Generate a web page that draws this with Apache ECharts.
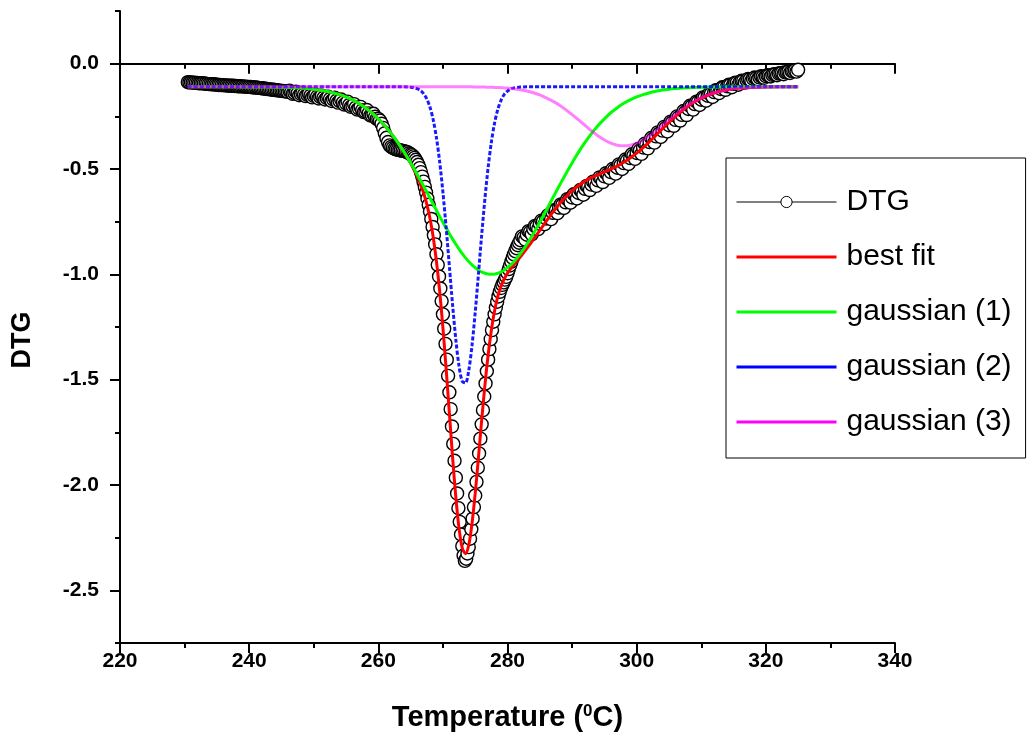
<!DOCTYPE html>
<html lang="en">
<head>
<meta charset="UTF-8">
<title>DTG deconvolution</title>
<script src="https://cdn.jsdelivr.net/npm/echarts@6/dist/echarts.min.js"></script>
<style>
    html, body { margin: 0; padding: 0; background: #fff; }
    #main { width: 1028px; height: 742px; }
</style>
</head>
<body>
<div id="main"></div>
<script>
    // measured DTG points [temperature, DTG]
    var dtgMain = [
        [230.5,-0.088],[231,-0.089],[231.5,-0.090],[232,-0.092],[232.5,-0.093],[233,-0.094],[233.5,-0.096],[234,-0.097],
        [234.5,-0.098],[235,-0.100],[235.5,-0.101],[236,-0.102],[236.5,-0.103],[237,-0.104],[237.5,-0.105],[238,-0.106],
        [238.5,-0.107],[239,-0.108],[239.5,-0.109],[240,-0.110],[240.5,-0.112],[241,-0.113],[241.5,-0.115],[242,-0.117],
        [242.5,-0.119],[243,-0.121],[243.5,-0.123],[244,-0.125],[244.5,-0.127],[245,-0.129],[245.5,-0.131],[246,-0.134],
        [246.5,-0.136],[247,-0.139],[247.5,-0.141],[248,-0.144],[248.5,-0.147],[249,-0.148],[249.5,-0.152],[250,-0.153],
        [250.5,-0.157],[251,-0.158],[251.5,-0.162],[252,-0.163],[252.5,-0.168],[253,-0.170],[253.5,-0.176],[254,-0.178],
        [254.5,-0.185],[255,-0.189],[255.5,-0.196],[256,-0.200],[256.5,-0.208],[257,-0.213],[257.5,-0.221],[258,-0.228],
        [258.5,-0.236],[259,-0.245],[259.5,-0.252],[260,-0.262],[260.5,-0.285],[261,-0.330],[261.5,-0.372],[262,-0.395],
        [262.5,-0.404],[263,-0.409],[263.5,-0.412],[264,-0.415],[264.5,-0.420],[265,-0.430],
        [265.2,-0.434],[265.4,-0.440],[265.6,-0.447],[265.8,-0.456],[266.0,-0.467],[266.2,-0.480],[266.4,-0.496],[266.6,-0.515],
        [266.8,-0.536],[267.0,-0.560],[267.2,-0.585],[267.4,-0.612],[267.6,-0.640],[267.8,-0.670],[268.0,-0.702],[268.2,-0.737],
        [268.4,-0.775],[268.6,-0.815],[268.8,-0.858],[269.0,-0.905],[269.2,-0.955],[269.4,-1.010],[269.6,-1.067],[269.8,-1.127],
        [270.0,-1.190],[270.2,-1.258],[270.4,-1.330],[270.6,-1.405],[270.8,-1.482],[271.0,-1.560],[271.2,-1.640],[271.4,-1.722],
        [271.6,-1.805],[271.8,-1.885],[272.0,-1.965],[272.2,-2.040],[272.4,-2.110],[272.6,-2.175],[272.8,-2.235],[273.0,-2.290],
        [273.2,-2.335],[273.4,-2.360],[273.6,-2.350],[273.8,-2.325],[274.0,-2.295],[274.2,-2.255],[274.4,-2.210],[274.6,-2.160],
        [274.8,-2.105],[275.0,-2.050],[275.2,-1.985],[275.4,-1.918],[275.6,-1.850],[275.8,-1.780],[276.0,-1.712],[276.2,-1.645],
        [276.4,-1.580],[276.6,-1.518],[276.8,-1.460],[277.0,-1.405],[277.2,-1.355],[277.4,-1.308],[277.6,-1.265],[277.8,-1.225],
        [278.0,-1.190],[278.2,-1.158],[278.4,-1.130],[278.6,-1.105],[278.8,-1.083],[279.0,-1.065],[279.2,-1.050],[279.4,-1.038],
        [279.6,-1.025],[279.8,-1.012],[280.0,-0.995],[280.2,-0.975],[280.4,-0.958],[280.6,-0.940],[280.8,-0.922],[281.0,-0.905],
        [281.2,-0.890],[281.4,-0.876],[281.6,-0.862],[281.8,-0.850],[282.0,-0.838],
        [282.5,-0.825],[283,-0.812],[283.5,-0.798],[284,-0.785],[284.5,-0.772],[285,-0.760],[285.5,-0.748],[286,-0.735],
        [286.5,-0.722],[287,-0.708],[287.5,-0.695],[288,-0.683],[288.5,-0.670],[289,-0.658],[289.5,-0.646],[290,-0.635],
        [290.5,-0.624],[291,-0.614],[291.5,-0.604],[292,-0.594],[292.5,-0.584],[293,-0.574],[293.5,-0.564],[294,-0.554],
        [294.5,-0.545],[295,-0.535],[295.5,-0.525],[296,-0.515],[296.5,-0.505],[297,-0.494],[297.5,-0.483],[298,-0.472],
        [298.5,-0.460],[299,-0.448],[299.5,-0.436],[300,-0.424],[300.5,-0.411],[301,-0.398],[301.5,-0.385],[302,-0.372],
        [302.5,-0.358],[303,-0.345],[303.5,-0.331],[304,-0.318],[304.5,-0.305],[305,-0.292],[305.5,-0.279],[306,-0.267],
        [306.5,-0.255],[307,-0.243],[307.5,-0.230],[308,-0.215],[308.5,-0.203],[309,-0.192],[309.5,-0.181],[310,-0.171],
        [310.5,-0.161],[311,-0.152],[311.5,-0.143],[312,-0.135],[312.5,-0.127],[313,-0.120],[313.5,-0.113],[314,-0.107],
        [314.5,-0.101],[315,-0.096],[315.5,-0.091],[316,-0.086],[316.5,-0.082],[317,-0.078],[317.5,-0.074],[318,-0.071],
        [318.5,-0.068],[319,-0.065],[319.5,-0.062],[320,-0.059],[320.5,-0.056],[321,-0.053],[321.5,-0.050],[322,-0.047],
        [322.5,-0.044],[323,-0.041],[323.5,-0.038],[324,-0.035],[324.5,-0.032],[325,-0.029]
    ];

    // in-between readings where the scatter band is dense and noisy
    var dtgExtra = [
        [230.75,-0.089],[231.25,-0.090],[231.75,-0.091],[232.25,-0.093],[232.75,-0.093],[233.25,-0.095],[233.75,-0.097],
        [234.25,-0.098],[234.75,-0.099],[235.25,-0.101],[235.75,-0.102],[236.25,-0.103],[236.75,-0.104],[237.25,-0.105],
        [237.75,-0.106],[238.25,-0.107],[238.75,-0.108],[239.25,-0.109],[239.75,-0.110],[240.25,-0.111],[240.75,-0.113],
        [241.25,-0.114],[241.75,-0.116],[242.25,-0.118],[242.75,-0.120],[243.25,-0.122],[243.75,-0.124],[244.25,-0.126],
        [244.75,-0.128],[245.25,-0.130],[245.75,-0.132],[246.25,-0.128],[246.75,-0.143],[247.25,-0.133],[247.75,-0.150],
        [248.25,-0.138],[248.75,-0.154],[249.25,-0.143],[249.75,-0.160],[250.25,-0.147],[250.75,-0.165],[251.25,-0.152],
        [251.75,-0.170],[252.25,-0.157],[252.75,-0.177],[253.25,-0.162],[253.75,-0.185],[254.25,-0.170],[254.75,-0.194],
        [255.25,-0.180],[255.75,-0.205],[256.25,-0.192],[256.75,-0.218],[257.25,-0.205],[257.75,-0.230],[258.25,-0.220],
        [258.75,-0.246],[259.25,-0.238],[259.75,-0.262],[260.25,-0.270],[260.75,-0.305],[261.25,-0.352],[261.75,-0.388],
        [262.25,-0.400],[262.75,-0.407],[263.25,-0.411],[263.75,-0.414],[264.25,-0.418],[264.75,-0.425],
        [282.25,-0.820],[282.75,-0.835],[283.25,-0.795],[283.75,-0.810],[284.25,-0.770],[284.75,-0.785],[285.25,-0.745],
        [285.75,-0.762],[286.25,-0.720],[286.75,-0.738],[287.25,-0.695],[287.75,-0.710],[288.25,-0.668],[288.75,-0.685],
        [289.25,-0.643],[289.75,-0.660],[290.25,-0.620],[290.75,-0.640],[291.25,-0.600],[291.75,-0.622],[292.25,-0.580],
        [292.75,-0.600],[293.25,-0.560],[293.75,-0.580],[294.25,-0.540],[294.75,-0.562],[295.25,-0.520],[295.75,-0.542],
        [296.25,-0.500],[296.75,-0.522],[297.25,-0.478],[297.75,-0.500],[298.25,-0.455],[298.75,-0.476],[299.25,-0.430],
        [299.75,-0.452],[300.25,-0.405],[300.75,-0.428],[301.25,-0.380],[301.75,-0.402],[302.25,-0.353],[302.75,-0.375],
        [303.25,-0.326],[303.75,-0.348],[304.25,-0.300],[304.75,-0.322],[305.25,-0.275],[305.75,-0.295],[306.25,-0.250],
        [306.75,-0.270],[307.25,-0.225],[307.75,-0.244],[308.25,-0.200],[308.75,-0.218],[309.25,-0.180],[309.75,-0.196],
        [310.25,-0.160],[310.75,-0.176],[311.25,-0.142],[311.75,-0.158],[312.25,-0.126],[312.75,-0.140],[313.25,-0.112],
        [313.75,-0.124],[314.25,-0.100],[314.75,-0.112],[315.25,-0.090],[315.75,-0.100],[316.25,-0.081],[316.75,-0.090],
        [317.25,-0.073],[317.75,-0.081],[318.25,-0.066],[318.75,-0.074],[319.25,-0.060],[319.75,-0.067],[320.25,-0.055],
        [320.75,-0.061],[321.25,-0.050],[321.75,-0.055],[322.25,-0.045],[322.75,-0.050],[323.25,-0.040],[323.75,-0.044],
        [324.25,-0.035],[324.75,-0.038]
    ];

    // temperatures of the fitted curves
    var fitTemp = [230.5, 234, 238, 242, 245, 248, 250, 252, 254, 256, 258, 260, 261, 262, 263, 264, 265,
        265.5, 266, 266.5, 267, 267.5, 268, 268.5, 269, 269.5, 270, 270.5, 271, 271.5, 272, 272.5, 273, 273.5,
        274, 274.5, 275, 275.5, 276, 276.5, 277, 277.5, 278, 278.5, 279, 279.5, 280, 280.5, 281,
        282, 283, 284, 285, 286, 287, 288, 289, 290, 291, 292, 293, 294, 295, 296, 297, 298, 299, 300,
        301, 302, 303, 304, 305, 306, 307, 308, 309, 310, 311, 312, 314, 316, 318, 320, 322, 325];

    var bestFit = [-0.110, -0.110, -0.110, -0.111, -0.112, -0.116, -0.121, -0.131, -0.147, -0.172, -0.209, -0.262, -0.295, -0.332, -0.374, -0.421, -0.473,
        -0.502, -0.533, -0.570, -0.613, -0.667, -0.735, -0.824, -0.939, -1.081, -1.253, -1.449, -1.659, -1.869, -2.058, -2.207, -2.300, -2.326,
        -2.285, -2.184, -2.040, -1.870, -1.693, -1.528, -1.383, -1.265, -1.173, -1.105, -1.056, -1.021, -0.994, -0.973, -0.953,
        -0.917, -0.877, -0.835, -0.791, -0.748, -0.706, -0.667, -0.633, -0.603, -0.578, -0.557, -0.541, -0.527, -0.514, -0.500, -0.486, -0.468, -0.448, -0.425,
        -0.399, -0.370, -0.339, -0.309, -0.279, -0.250, -0.224, -0.201, -0.180, -0.164, -0.150, -0.139, -0.124, -0.116, -0.113, -0.111, -0.110, -0.110];

    var gauss1 = [-0.110, -0.110, -0.110, -0.111, -0.112, -0.116, -0.121, -0.131, -0.147, -0.172, -0.209, -0.262, -0.295, -0.332, -0.374, -0.420, -0.471,
        -0.497, -0.525, -0.552, -0.581, -0.609, -0.638, -0.667, -0.696, -0.725, -0.753, -0.780, -0.807, -0.833, -0.857, -0.880, -0.902, -0.922,
        -0.939, -0.955, -0.968, -0.980, -0.989, -0.995, -0.999, -1.000, -0.999, -0.995, -0.989, -0.980, -0.968, -0.955, -0.939,
        -0.902, -0.857, -0.807, -0.753, -0.696, -0.638, -0.581, -0.525, -0.471, -0.420, -0.374, -0.332, -0.295, -0.262, -0.233, -0.209, -0.188, -0.172, -0.158,
        -0.147, -0.138, -0.131, -0.125, -0.121, -0.118, -0.116, -0.114, -0.113, -0.112, -0.111, -0.111, -0.110, -0.110, -0.110, -0.110, -0.110, -0.110];

    var gauss2 = [-0.110, -0.110, -0.110, -0.110, -0.110, -0.110, -0.110, -0.110, -0.110, -0.110, -0.110, -0.110, -0.110, -0.110, -0.110, -0.110, -0.112,
        -0.114, -0.119, -0.127, -0.142, -0.167, -0.207, -0.267, -0.352, -0.466, -0.610, -0.778, -0.962, -1.146, -1.310, -1.437, -1.508, -1.515,
        -1.456, -1.339, -1.181, -0.999, -0.814, -0.642, -0.493, -0.373, -0.282, -0.217, -0.174, -0.146, -0.130, -0.120, -0.115,
        -0.111, -0.110, -0.110, -0.110, -0.110, -0.110, -0.110, -0.110, -0.110, -0.110, -0.110, -0.110, -0.110, -0.110, -0.110, -0.110, -0.110, -0.110, -0.110,
        -0.110, -0.110, -0.110, -0.110, -0.110, -0.110, -0.110, -0.110, -0.110, -0.110, -0.110, -0.110, -0.110, -0.110, -0.110, -0.110, -0.110, -0.110];

    var gauss3 = [-0.110, -0.110, -0.110, -0.110, -0.110, -0.110, -0.110, -0.110, -0.110, -0.110, -0.110, -0.110, -0.110, -0.110, -0.110, -0.110, -0.110,
        -0.110, -0.110, -0.110, -0.110, -0.110, -0.110, -0.110, -0.110, -0.110, -0.110, -0.110, -0.110, -0.110, -0.110, -0.110, -0.110, -0.110,
        -0.110, -0.110, -0.111, -0.111, -0.111, -0.111, -0.112, -0.112, -0.113, -0.113, -0.114, -0.115, -0.116, -0.118, -0.119,
        -0.124, -0.130, -0.138, -0.148, -0.162, -0.178, -0.196, -0.218, -0.242, -0.267, -0.293, -0.319, -0.342, -0.362, -0.377, -0.387, -0.390, -0.387, -0.377,
        -0.362, -0.342, -0.319, -0.293, -0.267, -0.242, -0.218, -0.196, -0.178, -0.162, -0.148, -0.138, -0.124, -0.116, -0.113, -0.111, -0.110, -0.110];

    var yMajor = [-2.5, -2.0, -1.5, -1.0, -0.5, 0.0];

    // keep temperature order so the last reading is drawn on top
    var dtg = dtgMain.concat(dtgExtra).sort(function (a, b) { return a[0] - b[0]; });

    function onFitGrid(vals) {
        return fitTemp.map(function (t, i) { return [t, vals[i]]; });
    }

    var font = '"Liberation Sans", Arial, sans-serif';
    var bar = 'path://M0,0H100V3H0Z';

    var myChart = echarts.init(document.getElementById('main'));

    myChart.setOption({
        animation: false,
        backgroundColor: '#fff',
        grid: {left: 120, right: 133, top: 11, bottom: 99},
        legend: {
            orient: 'vertical',
            left: 726,
            top: 158,
            padding: [29, 14, 21, 10],
            itemGap: 25,
            itemWidth: 100,
            itemHeight: 14,
            borderColor: '#000',
            borderWidth: 1,
            backgroundColor: '#fff',
            selectedMode: false,
            textStyle: {fontFamily: font, fontSize: 30, color: '#000', padding: [0, 0, 0, 5]},
            itemStyle: {borderWidth: 0, opacity: 1},
            data: [
                {name: 'DTG', lineStyle: {width: 1, color: '#000', opacity: 1},
                    itemStyle: {color: '#fff', borderColor: '#000', borderWidth: 1}},
                {name: 'best fit', icon: bar},
                {name: 'gaussian (1)', icon: bar},
                {name: 'gaussian (2)', icon: bar},
                {name: 'gaussian (3)', icon: bar}
            ]
        },
        xAxis: [
            {
                type: 'value', min: 220, max: 340, interval: 20, position: 'bottom',
                axisLine: {onZero: false, lineStyle: {color: '#000', width: 2}},
                axisTick: {length: 10, lineStyle: {color: '#000', width: 2}},
                minorTick: {show: true, splitNumber: 2, length: 5, lineStyle: {color: '#000', width: 2}},
                axisLabel: {fontFamily: font, fontSize: 21, fontWeight: 'bold', color: '#000', margin: 8},
                splitLine: {show: false},
                name: 'Temperature ({sup|0}C)',
                nameLocation: 'middle',
                nameGap: 60,
                nameTextStyle: {
                    fontFamily: font, fontSize: 29, fontWeight: 'bold', color: '#000',
                    rich: {sup: {fontFamily: font, fontSize: 17, fontWeight: 'bold', color: '#000', verticalAlign: 'top'}}
                }
            },
            {
                // the line drawn along DTG = 0
                type: 'value', min: 220, max: 340, interval: 20, position: 'top',
                axisLine: {onZero: true, lineStyle: {color: '#000', width: 2}},
                axisTick: {inside: true, length: 10, lineStyle: {color: '#000', width: 2}},
                minorTick: {show: true, splitNumber: 2, length: 5, lineStyle: {color: '#000', width: 2}},
                axisLabel: {show: false},
                splitLine: {show: false}
            }
        ],
        yAxis: [
            {
                type: 'value', min: -2.75, max: 0.25, interval: 0.25, position: 'left',
                axisLine: {onZero: false, lineStyle: {color: '#000', width: 2}},
                axisTick: {customValues: yMajor, length: 10, lineStyle: {color: '#000', width: 2}},
                axisLabel: {
                    customValues: yMajor, margin: 21,
                    fontFamily: font, fontSize: 21, fontWeight: 'bold', color: '#000',
                    formatter: function (v) { return v.toFixed(1); }
                },
                splitLine: {show: false},
                name: 'DTG',
                nameLocation: 'middle',
                nameGap: 84,
                nameTextStyle: {fontFamily: font, fontSize: 27, fontWeight: 'bold', color: '#000', padding: [0, 26, 0, 0]}
            },
            {
                // minor ticks every 0.25
                type: 'value', min: -2.75, max: 0.25, interval: 0.25, position: 'left',
                axisLine: {show: false, onZero: false},
                axisTick: {length: 5, lineStyle: {color: '#000', width: 2}},
                axisLabel: {show: false},
                splitLine: {show: false}
            }
        ],
        series: [
            {
                name: 'DTG', type: 'line', data: dtg, z: 1,
                symbol: 'circle', symbolSize: 13, showSymbol: true, showAllSymbol: true,
                lineStyle: {width: 0, color: '#000'},
                itemStyle: {color: '#fff', borderColor: '#000', borderWidth: 1.4},
                emphasis: {disabled: true}, silent: true
            },
            {
                name: 'best fit', type: 'line', data: onFitGrid(bestFit), z: 3,
                symbol: 'none', smooth: 0.3, color: '#ff0000',
                lineStyle: {color: '#ff0000', width: 3}, silent: true
            },
            {
                name: 'gaussian (1)', type: 'line', data: onFitGrid(gauss1), z: 4,
                symbol: 'none', smooth: 0.3, color: '#00ff00',
                lineStyle: {color: '#00ff00', width: 3}, silent: true
            },
            {
                name: 'gaussian (2)', type: 'line', data: onFitGrid(gauss2), z: 5,
                symbol: 'none', smooth: 0.3, color: '#0000ff',
                lineStyle: {color: '#0000ff', width: 3, type: [4, 2], opacity: 0.9}, silent: true
            },
            {
                name: 'gaussian (3)', type: 'line', data: onFitGrid(gauss3), z: 6,
                symbol: 'none', smooth: 0.3, color: '#ff00ff',
                lineStyle: {color: '#ff00ff', width: 3, opacity: 0.5}, silent: true
            }
        ]
    });
</script>
</body>
</html>
